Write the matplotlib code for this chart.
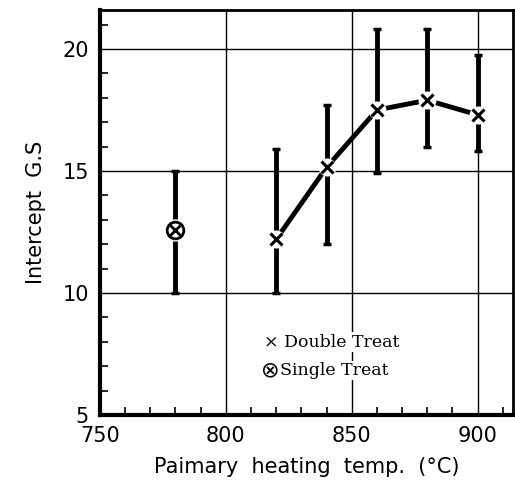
import numpy as np
import matplotlib as mpl
mpl.use('Agg')
import matplotlib.pyplot as plt
from matplotlib.ticker import MultipleLocator

# Double treatment: primary heating temperature vs intercept grain size
temp_double = [820, 840, 860, 880, 900]
gs_double = [12.2, 15.15, 17.5, 17.9, 17.3]
gs_double_lo = [10.0, 12.0, 14.9, 16.0, 15.8]
gs_double_hi = [15.9, 17.7, 20.8, 20.8, 19.75]

# Single treatment
temp_single = [780]
gs_single = [12.6]
gs_single_lo = [10.0]
gs_single_hi = [15.0]

x_ticks = [750, 800, 850, 900]
y_ticks = [5, 10, 15, 20]

fig = plt.figure(figsize=(5.15, 4.97), dpi=100)
ax = fig.add_axes([0.194, 0.165, 0.802, 0.815])

ax.set_xlim(750, 914)
ax.set_ylim(5, 21.6)

for v in x_ticks[1:]:
    ax.axvline(v, color='black', lw=1.0, zorder=1)
for v in y_ticks[1:]:
    ax.axhline(v, color='black', lw=1.0, zorder=1)


def draw_bars(xs, lo, hi):
    xs = np.asarray(xs)
    ax.vlines(xs, lo, hi, color='black', lw=3.5, zorder=2)
    ax.hlines(lo, xs - 1.6, xs + 1.6, color='black', lw=2.5, zorder=2)
    ax.hlines(hi, xs - 1.6, xs + 1.6, color='black', lw=2.5, zorder=2)


draw_bars(temp_double, gs_double_lo, gs_double_hi)
draw_bars(temp_single, gs_single_lo, gs_single_hi)

ax.plot(temp_double, gs_double, color='black', lw=3.5, zorder=2)
# white halo around markers
ax.plot(temp_double, gs_double, 'o', ms=13, mfc='white', mec='none', zorder=3)
ax.plot(temp_double, gs_double, 'x', ms=8, mew=2.2, color='black', zorder=4)

ax.plot(temp_single, gs_single, 'o', ms=16, mfc='white', mec='none', zorder=3)
ax.plot(temp_single, gs_single, 'o', ms=12, mfc='white', mec='black', mew=2, zorder=4)
ax.plot(temp_single, gs_single, 'x', ms=6.5, mew=2, color='black', zorder=5)

# legend drawn as text
ax.text(0.397, 0.18, u'\u00d7 Double Treat', transform=ax.transAxes,
        family='DejaVu Serif', fontsize=12.5, va='center', zorder=6,
        bbox=dict(facecolor='white', edgecolor='none', pad=1))
ax.text(0.39, 0.11, u'\u2297', transform=ax.transAxes,
        family='DejaVu Sans', fontsize=16, va='center', zorder=6,
        bbox=dict(facecolor='white', edgecolor='none', pad=1))
ax.text(0.437, 0.11, 'Single Treat', transform=ax.transAxes,
        family='DejaVu Serif', fontsize=12.5, va='center', zorder=6,
        bbox=dict(facecolor='white', edgecolor='none', pad=1))

ax.set_xticks(x_ticks)
ax.set_yticks(y_ticks)
ax.xaxis.set_minor_locator(MultipleLocator(10))
ax.yaxis.set_minor_locator(MultipleLocator(1))
ax.tick_params(which='major', length=0, labelsize=15, pad=8)
ax.tick_params(which='minor', direction='in', length=6, width=1.2)
ax.tick_params(top=False, right=False)

for side in ['left', 'bottom']:
    ax.spines[side].set_linewidth(3)
for side in ['top', 'right']:
    ax.spines[side].set_linewidth(2)

ax.set_xlabel(u'Paimary  heating  temp.  (\u00b0C)', fontsize=15, labelpad=8)
ax.set_ylabel('Intercept  G.S', fontsize=15, labelpad=12)

fig.savefig('out.png', dpi=100)
